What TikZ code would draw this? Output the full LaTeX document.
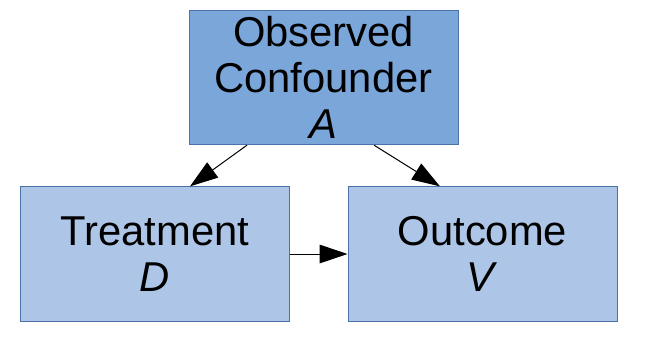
\documentclass[tikz,border=0pt]{standalone}
\usepackage{fontspec}
\setmainfont{Liberation Sans}
\usetikzlibrary{arrows.meta}
\definecolor{topfill}{HTML}{7BA6D9}
\definecolor{lowfill}{HTML}{ADC5E7}
\definecolor{boxline}{HTML}{4A72A8}
\tikzset{
  varbox/.style={draw=boxline, line width=0.75pt, align=center, inner sep=0pt,
    minimum width=201.75pt, minimum height=100.75pt,
    font=\fontsize{31.3}{34.5}\selectfont},
  edge/.style={line width=0.75pt, -{Triangle[length=21pt,width=14pt]}}
}
\begin{document}
\begin{tikzpicture}[x=0.75pt,y=-0.75pt]
  \useasboundingbox (0,0) rectangle (647,344);
  \node[varbox, fill=topfill] (A) at (323.5,77.5) {Observed\\Confounder\\\textit{A}};
  \node[varbox, fill=lowfill] (D) at (155,254) {Treatment\\\textit{D}};
  \node[varbox, fill=lowfill] (V) at (482.5,254) {Outcome\\\textit{V}};
  \draw[edge] ([xshift=-57.4pt]A.south) -- ([xshift=26.25pt]D.north);
  \draw[edge] ([xshift=37.9pt]A.south) -- ([xshift=-31.9pt]V.north);
  \draw[edge] (D.east) -- (V.west);
\end{tikzpicture}
\end{document}
